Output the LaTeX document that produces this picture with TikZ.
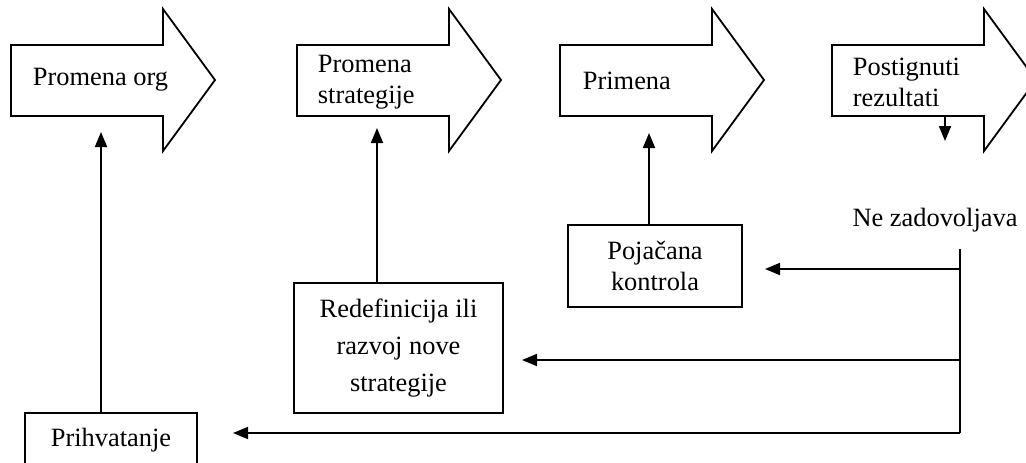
\documentclass[tikz,border=0pt]{standalone}
\usepackage{fontspec}
\setmainfont{Liberation Serif}
\usepackage{tikz}
\usetikzlibrary{arrows.meta,positioning}

\begin{document}
\begin{tikzpicture}[
	x=0.5pt, y=-0.5pt,
	line width=0.9pt,
	txt/.style   = {inner sep=0pt, align=left, font=\fontsize{13.2}{15.5}\selectfont},
	blockarrow/.style = {draw, fill=white, line join=miter},
	box/.style   = {draw, align=center, inner sep=0pt, font=\fontsize{13.2}{15.5}\selectfont},
	>={Triangle[length=7.5pt,width=6pt]}]

	\clip (0,0) rectangle (1026,462);

	% the four block arrows along the top
	\foreach \x in {11,297,560,832}
	\draw[blockarrow] (\x,45) -- ++(152,0) -- ++(0,-36) -- ++(52,71) -- ++(-52,71) -- ++(0,-35) -- ++(-152,0) -- cycle;

	% texts inside the block arrows
	\node[txt, anchor=west] (t1) at (32,80) {Promena org};
	\node[txt, anchor=west] (t2) at (317,82) {Promena\\strategije};
	\node[txt, anchor=west] (t3) at (582,81) {Primena};
	\node[txt, anchor=west] (t4) at (852,82) {Postignuti\\rezultati};

	% boxes below
	\node[box, minimum width=86pt, minimum height=27pt] (prih) at (111,440) {Prihvatanje};
	\node[box, minimum width=104.5pt, minimum height=65pt, font=\fontsize{13.2}{18.5}\selectfont] (redef) at (398.5,348) {Redefinicija ili\\razvoj nove\\strategije};
	\node[box, minimum width=87pt, minimum height=41pt] (poja) at (655,266) {Poja\v{c}ana\\kontrola};
	\node[txt] (ne) at (935,220) {Ne zadovoljava};

	% free ends of the connectors
	\coordinate (u1) at (101,132);
	\coordinate (u2) at (377,128);
	\coordinate (u3) at (649,133);
	\coordinate (d4) at (945,116);
	\coordinate (top) at (960,249);
	\coordinate (bot) at (960,433);
	\coordinate (e1) at (765,269);
	\coordinate (e2) at (522,360);
	\coordinate (e3) at (233,433);

	% lines from the boxes up to the arrows
	\draw[->] (prih.north -| u1) -- (u1);
	\draw[->] (redef.north -| u2) -- (u2);
	\draw[->] (poja.north -| u3) -- (u3);
	\draw[->] (d4) -- ++(0,25);

	% feedback from "Ne zadovoljava"
	\draw (top) -- (bot);
	\foreach \value in {1,2,3}
	\draw[->] (e\value -| top) -- (e\value);

\end{tikzpicture}
\end{document}
